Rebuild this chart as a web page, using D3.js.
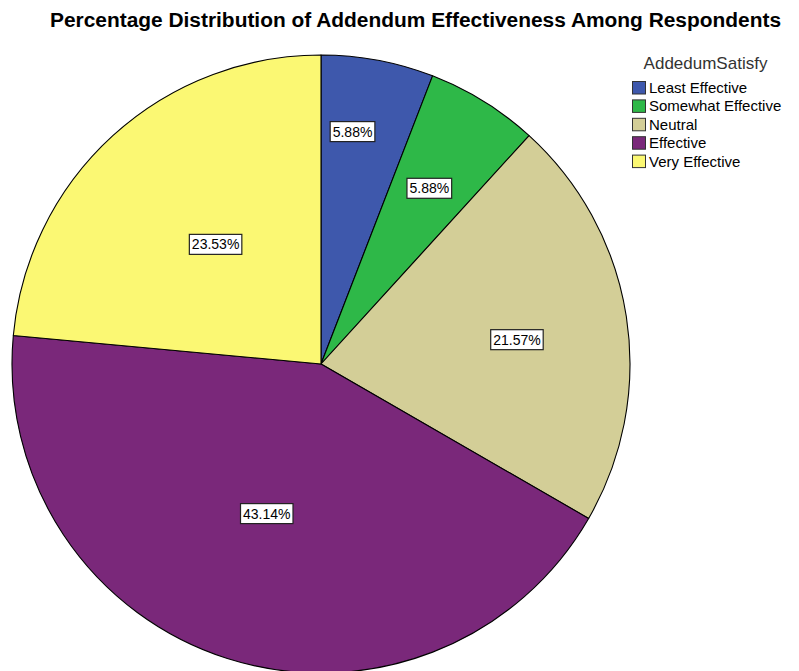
<!DOCTYPE html>
<html>
<head>
<meta charset="utf-8">
<script src="https://cdn.jsdelivr.net/npm/d3@7"></script>
<style>
  html, body { margin: 0; padding: 0; background: #fff; }
  svg { display: block; font-family: Arial, "Liberation Sans", sans-serif; }
</style>
</head>
<body>
<svg id="chart" width="799" height="671"></svg>
<script>
// Response categories and their share of respondents (%)
const categories = ["Least Effective", "Somewhat Effective", "Neutral", "Effective", "Very Effective"];
const percentages = [5.88, 5.88, 21.57, 43.14, 23.53];
const colors = ["#3E58AC", "#2EB848", "#D3CE97", "#7A287A", "#FBF873"];

// Per-slice label placement: fraction of radius, and angular nudge in degrees
const labelRadiusFrac = [0.759, 0.668, 0.639, 0.515, 0.516];
const labelAngleShift = [-2.86, -0.1, 1.76, 2.29, 0.97];

const svg = d3.select("#chart");
const cx = 321, cy = 364, radius = 309;

// Title
svg.append("text")
  .attr("x", 415.5).attr("y", 27)
  .attr("text-anchor", "middle")
  .attr("font-size", 20)
  .attr("font-weight", "bold")
  .attr("fill", "#000")
  .attr("textLength", 731)
  .attr("lengthAdjust", "spacingAndGlyphs")
  .text("Percentage Distribution of Addendum Effectiveness Among Respondents");

const pie = d3.pie().value(d => d).sort(null);
const arcs = pie(percentages);
const arc = d3.arc().innerRadius(0).outerRadius(radius);

const g = svg.append("g").attr("transform", `translate(${cx},${cy})`);

g.selectAll("path.slice")
  .data(arcs)
  .join("path")
  .attr("class", "slice")
  .attr("d", arc)
  .attr("fill", (d, i) => colors[i])
  .attr("stroke", "#000")
  .attr("stroke-width", 1.1)
  .attr("stroke-linejoin", "round");

// Value labels in white boxes
const fmt = v => v.toFixed(2) + "%";
const labels = g.selectAll("g.lab")
  .data(arcs)
  .join("g")
  .attr("class", "lab")
  .attr("transform", (d, i) => {
    const a = (d.startAngle + d.endAngle) / 2 + labelAngleShift[i] * Math.PI / 180;
    const r = radius * labelRadiusFrac[i];
    return `translate(${r * Math.sin(a)},${-r * Math.cos(a)})`;
  });

labels.each(function(d) {
  const sel = d3.select(this);
  const t = sel.append("text")
    .attr("text-anchor", "middle")
    .attr("dy", "0.36em")
    .attr("font-size", 14)
    .attr("fill", "#000")
    .text(fmt(d.data));
  const bb = t.node().getBBox();
  sel.insert("rect", "text")
    .attr("x", bb.x - 2.5)
    .attr("y", -10)
    .attr("width", bb.width + 5)
    .attr("height", 20)
    .attr("fill", "#fff")
    .attr("stroke", "#222")
    .attr("stroke-width", 1.2);
});

// Legend
const legend = svg.append("g").attr("transform", "translate(632,0)");
legend.append("text")
  .attr("x", 73.5).attr("y", 69)
  .attr("text-anchor", "middle")
  .attr("font-size", 17)
  .attr("fill", "#333")
  .text("AddedumSatisfy");

const rows = legend.selectAll("g.row")
  .data(categories)
  .join("g")
  .attr("class", "row")
  .attr("transform", (d, i) => `translate(0,${81 + i * 18.4})`);

rows.append("rect")
  .attr("x", 0.5).attr("y", 0.5)
  .attr("width", 13).attr("height", 12.5)
  .attr("fill", (d, i) => colors[i])
  .attr("stroke", "#333")
  .attr("stroke-width", 1);

rows.append("text")
  .attr("x", 17).attr("y", 12)
  .attr("font-size", 15)
  .attr("fill", "#000")
  .text(d => d);
</script>
</body>
</html>
